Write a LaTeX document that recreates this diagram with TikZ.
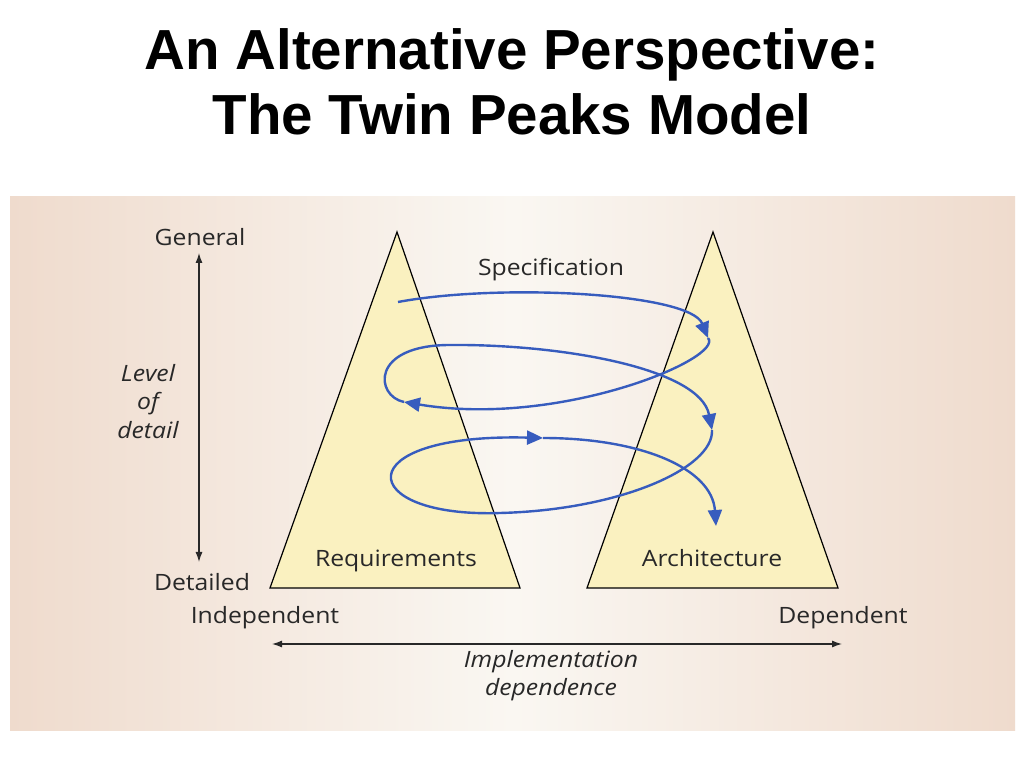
\documentclass[tikz,border=0pt]{standalone}
\usepackage{fontspec}
\setmainfont{Open Sans}[FakeStretch=1.1]
\newfontfamily\titlefont{Liberation Sans}
\usetikzlibrary{positioning,arrows.meta}
\definecolor{peach}{RGB}{239,219,205}
\definecolor{cream}{RGB}{250,247,242}
\definecolor{peakfill}{RGB}{250,241,192}
\definecolor{spiralblue}{RGB}{55,92,190}
\definecolor{labelgray}{RGB}{40,40,40}
\tikzset{
  peak/.style={draw=black, line width=1.2pt, fill=peakfill, line join=miter},
  label/.style={font=\fontsize{22.5}{28}\selectfont, text=labelgray, anchor=base, inner sep=0pt},
  axis/.style={line width=1.2pt, draw=labelgray, {Latex[length=10pt,width=7pt]}-{Latex[length=10pt,width=7pt]}},
  spiral/.style={draw=spiralblue, line width=2.4pt, -{Triangle[length=16pt,width=14pt]}, spiralblue}
}
\begin{document}
\begin{tikzpicture}[x=1pt,y=1pt]
\useasboundingbox (0,0) rectangle (1024,768);
\fill[white] (0,0) rectangle (1024,768);
% title
\node (t1) [font=\titlefont\bfseries\fontsize{56.5}{65}\selectfont, anchor=base] at (512,698) {An Alternative Perspective:};
\node (t2) [font=\titlefont\bfseries\fontsize{56.5}{65}\selectfont, anchor=base] at (512,633) {The Twin Peaks Model};
% panel
\shade[left color=peach, right color=peach, middle color=cream] (10,38) rectangle (1015,571);
% peaks
\coordinate (ra) at (397,536);
\coordinate (rl) at (270,180);
\coordinate (rr) at (520,180);
\coordinate (aa) at (713,536);
\coordinate (al) at (587,180);
\coordinate (ar) at (838,180);
\draw[peak] (ra) -- (rl) -- (rr) -- cycle;
\draw[peak] (aa) -- (al) -- (ar) -- cycle;
\node (req) [label] at (396,201) {Requirements};
\node (arch) [label] at (712,201) {Architecture};
\node (spec) [label] at (551,492) {Specification};
% level of detail
\node (general) [label] at (200,522) {General};
\node (detailed) [label] at (202,177) {Detailed};
\coordinate (gtop) at (199,515);
\coordinate (gbot) at (199,206);
\draw[axis] (gtop) -- (gbot);
\node (level) [label, font=\itshape\fontsize{22.5}{28.5}\selectfont, align=center, anchor=north] at (148,404) {Level\\of\\detail};
% implementation dependence
\node (indep) [label] at (265,145) {Independent};
\node (dep) [label] at (843,145) {Dependent};
\coordinate (lo) at (272,124);
\coordinate (hi) at (842,124);
\draw[axis] (lo) -- (hi);
\node (impl) [label, font=\itshape\fontsize{22.5}{28}\selectfont, align=center, anchor=north] at (551,118) {Implementation\\dependence};
% spiral
\coordinate (p0) at (398,466);
\coordinate (p1) at (708,430);
\coordinate (p2) at (404,366);
\coordinate (q1) at (450,423);
\coordinate (p3) at (712,338);
\coordinate (q2) at (500,255);
\coordinate (p4) at (543,330);
\coordinate (p5) at (716,242);
\draw[spiral] (p0) .. controls (500,485) and (690,475) .. (p1);
\draw[spiral] (p1) .. controls (725,410) and (560,340) .. (p2);
\draw[spiral] (p2) .. controls (375,372) and (370,423) .. (q1) .. controls (560,424) and (700,400) .. (p3);
\draw[spiral] (p3) .. controls (714,300) and (620,258) .. (q2) .. controls (355,250) and (345,335) .. (p4);
\draw[spiral] (p4) .. controls (640,330) and (712,300) .. (p5);
\end{tikzpicture}
\end{document}
